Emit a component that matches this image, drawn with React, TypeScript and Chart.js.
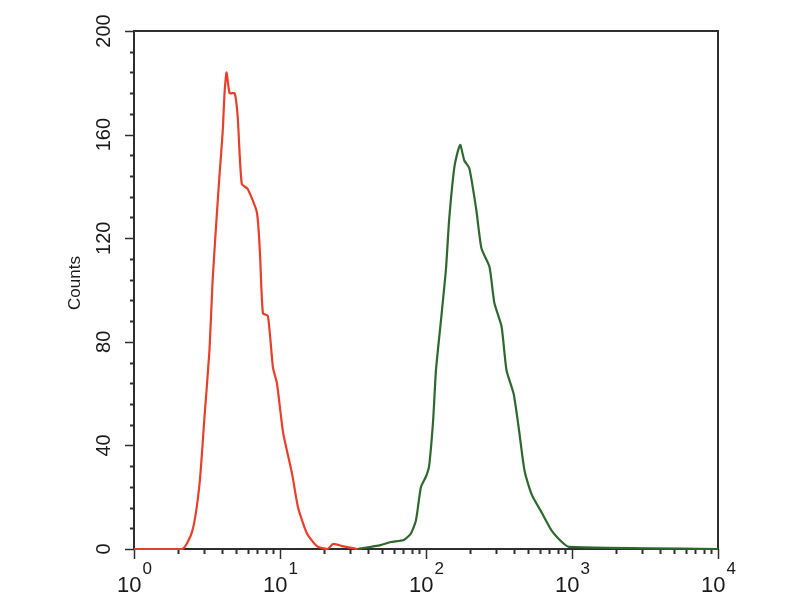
import React, { useEffect, useRef } from "react";
import { Chart, registerables } from "chart.js";

Chart.register(...registerables);

const redX = [1, 2.14, 2.51, 2.81, 3.04, 3.29, 3.45, 3.68, 3.86, 4.05, 4.18, 4.31, 4.52, 4.89, 5.13, 5.47, 6.01, 6.94, 7.28, 7.64, 8.26, 8.95, 9.53, 10.5, 12.1, 13.3, 15.3, 18.0, 21.1, 23.2, 27.2, 34];
const redY = [0, 0, 7, 25, 51, 77, 103, 128, 145, 161, 177, 184, 176, 176, 167, 141, 139, 130, 115, 91, 90, 70, 64, 45, 29, 16, 6, 1, 0, 2, 1, 0];

const greenX = [34, 48.9, 57.4, 70.5, 78.8, 85.3, 92.4, 100, 105, 112, 117, 127, 137, 144, 156, 166, 172, 183, 198, 221, 240, 272, 294, 329, 356, 398, 431, 474, 530, 621, 728, 853, 953, 10000];
const greenY = [0, 1.5, 2.7, 3.5, 6, 11, 24, 28, 32, 50, 69, 89, 108, 127, 147, 154, 156, 150, 147, 131, 116, 109, 95, 86, 69, 60, 47, 30, 21, 14, 7, 2.7, 0.8, 0];

const yTicks = [0, 40, 80, 120, 160, 200];
const xDecades = [0, 1, 2, 3, 4];
const yTitle = "Counts";

const FONT = "'Liberation Sans', Arial, sans-serif";

const axisPlugin = {
  id: "flowAxes",
  beforeDatasetsDraw(chart: any) {
    const { ctx, chartArea } = chart;
    const xs = chart.scales.x;
    const ys = chart.scales.y;
    ctx.save();
    ctx.strokeStyle = "#2e2e2e";
    ctx.lineWidth = 2;
    ctx.strokeRect(chartArea.left, chartArea.top, chartArea.right - chartArea.left, chartArea.bottom - chartArea.top);
    for (let v = 0; v <= 200; v += 8) {
      const py = Math.round(ys.getPixelForValue(v)) + 0.5;
      const major = v % 40 === 0;
      const len = major ? 9 : 4;
      ctx.lineWidth = major ? 1.5 : 2;
      ctx.beginPath();
      ctx.moveTo(chartArea.left - len, py);
      ctx.lineTo(chartArea.left, py);
      ctx.stroke();
    }
    for (let d = 0; d <= 4; d++) {
      const base = Math.pow(10, d);
      const m = d < 4 ? 9 : 1;
      for (let k = 1; k <= m; k++) {
        const px = Math.round(xs.getPixelForValue(base * k)) + 0.5;
        const len = k === 1 ? 10 : 5;
        ctx.lineWidth = k === 1 ? 1.5 : 2;
        ctx.beginPath();
        ctx.moveTo(px, chartArea.bottom);
        ctx.lineTo(px, chartArea.bottom + len);
        ctx.stroke();
      }
    }
    ctx.restore();
  },
  afterDraw(chart: any) {
    const { ctx, chartArea } = chart;
    const xs = chart.scales.x;
    const ys = chart.scales.y;
    ctx.save();
    ctx.fillStyle = "#1a1a1a";
    ctx.font = `20px ${FONT}`;
    ctx.textAlign = "center";
    ctx.textBaseline = "middle";
    for (const v of yTicks) {
      const py = ys.getPixelForValue(v);
      ctx.save();
      ctx.translate(chartArea.left - 30, py);
      ctx.rotate(-Math.PI / 2);
      ctx.fillText(String(v), 0, 0);
      ctx.restore();
    }
    ctx.save();
    ctx.font = `17px ${FONT}`;
    ctx.translate(75, 283);
    ctx.rotate(-Math.PI / 2);
    ctx.fillText(yTitle, 0, 0);
    ctx.restore();
    ctx.textBaseline = "alphabetic";
    ctx.textAlign = "left";
    for (const d of xDecades) {
      const px = xs.getPixelForValue(Math.pow(10, d));
      ctx.font = `22px ${FONT}`;
      const w1 = ctx.measureText("10").width;
      ctx.font = `17px ${FONT}`;
      const w2 = ctx.measureText(String(d)).width;
      const x0 = px - (w1 + w2) / 2;
      ctx.font = `22px ${FONT}`;
      ctx.fillText("10", x0, 592);
      ctx.font = `17px ${FONT}`;
      ctx.fillText(String(d), x0 + w1 + 1, 574);
    }
    ctx.restore();
  },
};

export default function App() {
  const ref = useRef<HTMLCanvasElement | null>(null);
  useEffect(() => {
    if (!ref.current) return;
    const chart = new Chart(ref.current, {
      type: "scatter",
      data: {
        datasets: [
          {
            data: redX.map((x, i) => ({ x, y: redY[i] })),
            showLine: true,
            borderColor: "rgb(232,62,42)",
            borderWidth: 2.2,
            pointRadius: 0,
            tension: 0.2,
            clip: 4,
          },
          {
            data: greenX.map((x, i) => ({ x, y: greenY[i] })),
            showLine: true,
            borderColor: "rgb(46,104,46)",
            borderWidth: 2.2,
            pointRadius: 0,
            tension: 0.2,
            clip: 4,
          },
        ],
      },
      options: {
        animation: false,
        responsive: false,
        layout: { padding: { left: 134, right: 82, top: 31, bottom: 51 } },
        plugins: { legend: { display: false }, tooltip: { enabled: false } },
        scales: {
          x: { type: "logarithmic", min: 1, max: 10000, display: false },
          y: { type: "linear", min: 0, max: 200, display: false },
        },
      },
      plugins: [axisPlugin],
    });
    return () => chart.destroy();
  }, []);
  return (
    <div style={{ position: "absolute", left: 0, top: 0, width: 800, height: 600, background: "#fff" }}>
      <canvas ref={ref} width={800} height={600} style={{ width: 800, height: 600 }} />
    </div>
  );
}
